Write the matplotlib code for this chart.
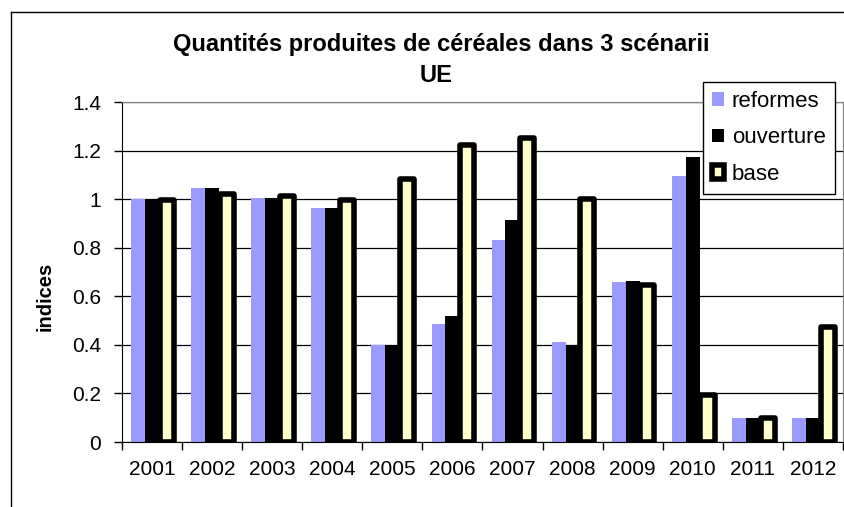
import numpy as np
import matplotlib
matplotlib.use('Agg')
import matplotlib.pyplot as plt
from matplotlib.lines import Line2D

plt.rcParams['font.family'] = ['Liberation Sans', 'DejaVu Sans']

years = ['2001', '2002', '2003', '2004', '2005', '2006',
         '2007', '2008', '2009', '2010', '2011', '2012']
reformes = [1.0, 1.045, 1.005, 0.965, 0.40, 0.485, 0.83, 0.41, 0.66, 1.095, 0.10, 0.10]
ouverture = [1.0, 1.045, 1.005, 0.965, 0.40, 0.52, 0.915, 0.40, 0.665, 1.175, 0.10, 0.10]
base = [0.995, 1.02, 1.012, 0.997, 1.085, 1.225, 1.25, 1.0, 0.647, 0.195, 0.097, 0.475]
yticks = [0, 0.2, 0.4, 0.6, 0.8, 1, 1.2, 1.4]
ytick_labels = ['0', '0.2', '0.4', '0.6', '0.8', '1', '1.2', '1.4']

W, H = 845, 507
fig = plt.figure(figsize=(W / 100, H / 100), dpi=100)
ax = fig.add_axes([122 / W, 1 - 442 / H, 721 / W, 340 / H])

x = np.arange(len(years))
w = 0.235
ax.bar(x - 0.23, reformes, w, color='#9999FF', label='reformes', zorder=2)
ax.bar(x, ouverture, w, color='black', label='ouverture', zorder=2)
ax.bar(x + 0.245, base, w, color='#FFFFCC', edgecolor='black',
       linewidth=4, joinstyle='round', label='base', zorder=3)

ax.set_xlim(-0.5, len(years) - 0.5)
ax.set_ylim(0, 1.4)
ax.set_yticks(yticks)
ax.set_yticklabels(ytick_labels)
ax.yaxis.grid(True, color='black', linewidth=0.9, zorder=0)
ax.set_axisbelow(True)

# category boundaries as ticks, labels in centre
ax.set_xticks(np.arange(-0.5, len(years), 1.0))
ax.set_xticklabels([])
ax.set_xticks(x, minor=True)
ax.set_xticklabels(years, minor=True)
ax.tick_params(axis='x', which='minor', length=0, pad=13, labelsize=15)
ax.tick_params(axis='x', which='major', direction='out', length=6, width=1)
ax.tick_params(axis='y', direction='out', length=6, width=1, pad=9, labelsize=15)

for s in ['top', 'right']:
    ax.spines[s].set_color('#808080')
for s in ['left', 'bottom']:
    ax.spines[s].set_color('black')

fig.text(441 / W, 1 - 45 / H, 'Quantités produites de céréales dans 3 scénarii',
         ha='center', va='center', fontsize=17, fontweight='bold')
fig.text(436 / W, 1 - 75 / H, 'UE', ha='center', va='center',
         fontsize=17, fontweight='bold')
fig.text(45 / W, 1 - 296 / H, 'indices', rotation=90, ha='center', va='center',
         fontsize=14.5, fontweight='bold')

leg = ax.legend(loc='upper left', bbox_to_anchor=(703 / W, 1 - 82 / H),
                bbox_transform=fig.transFigure, fontsize=16, frameon=True,
                fancybox=False, edgecolor='black', framealpha=1,
                handlelength=0.55, handleheight=0.55, handletextpad=0.35,
                labelspacing=0.7, borderpad=0.4, borderaxespad=0)
leg.get_frame().set_linewidth(1)

# outer chart frame
fig.add_artist(Line2D([11 / W, 1], [1 - 12 / H, 1 - 12 / H], color='black', linewidth=1))
fig.add_artist(Line2D([11 / W, 11 / W], [0, 1 - 12 / H], color='black', linewidth=1))

fig.savefig('out.png', dpi=100)
